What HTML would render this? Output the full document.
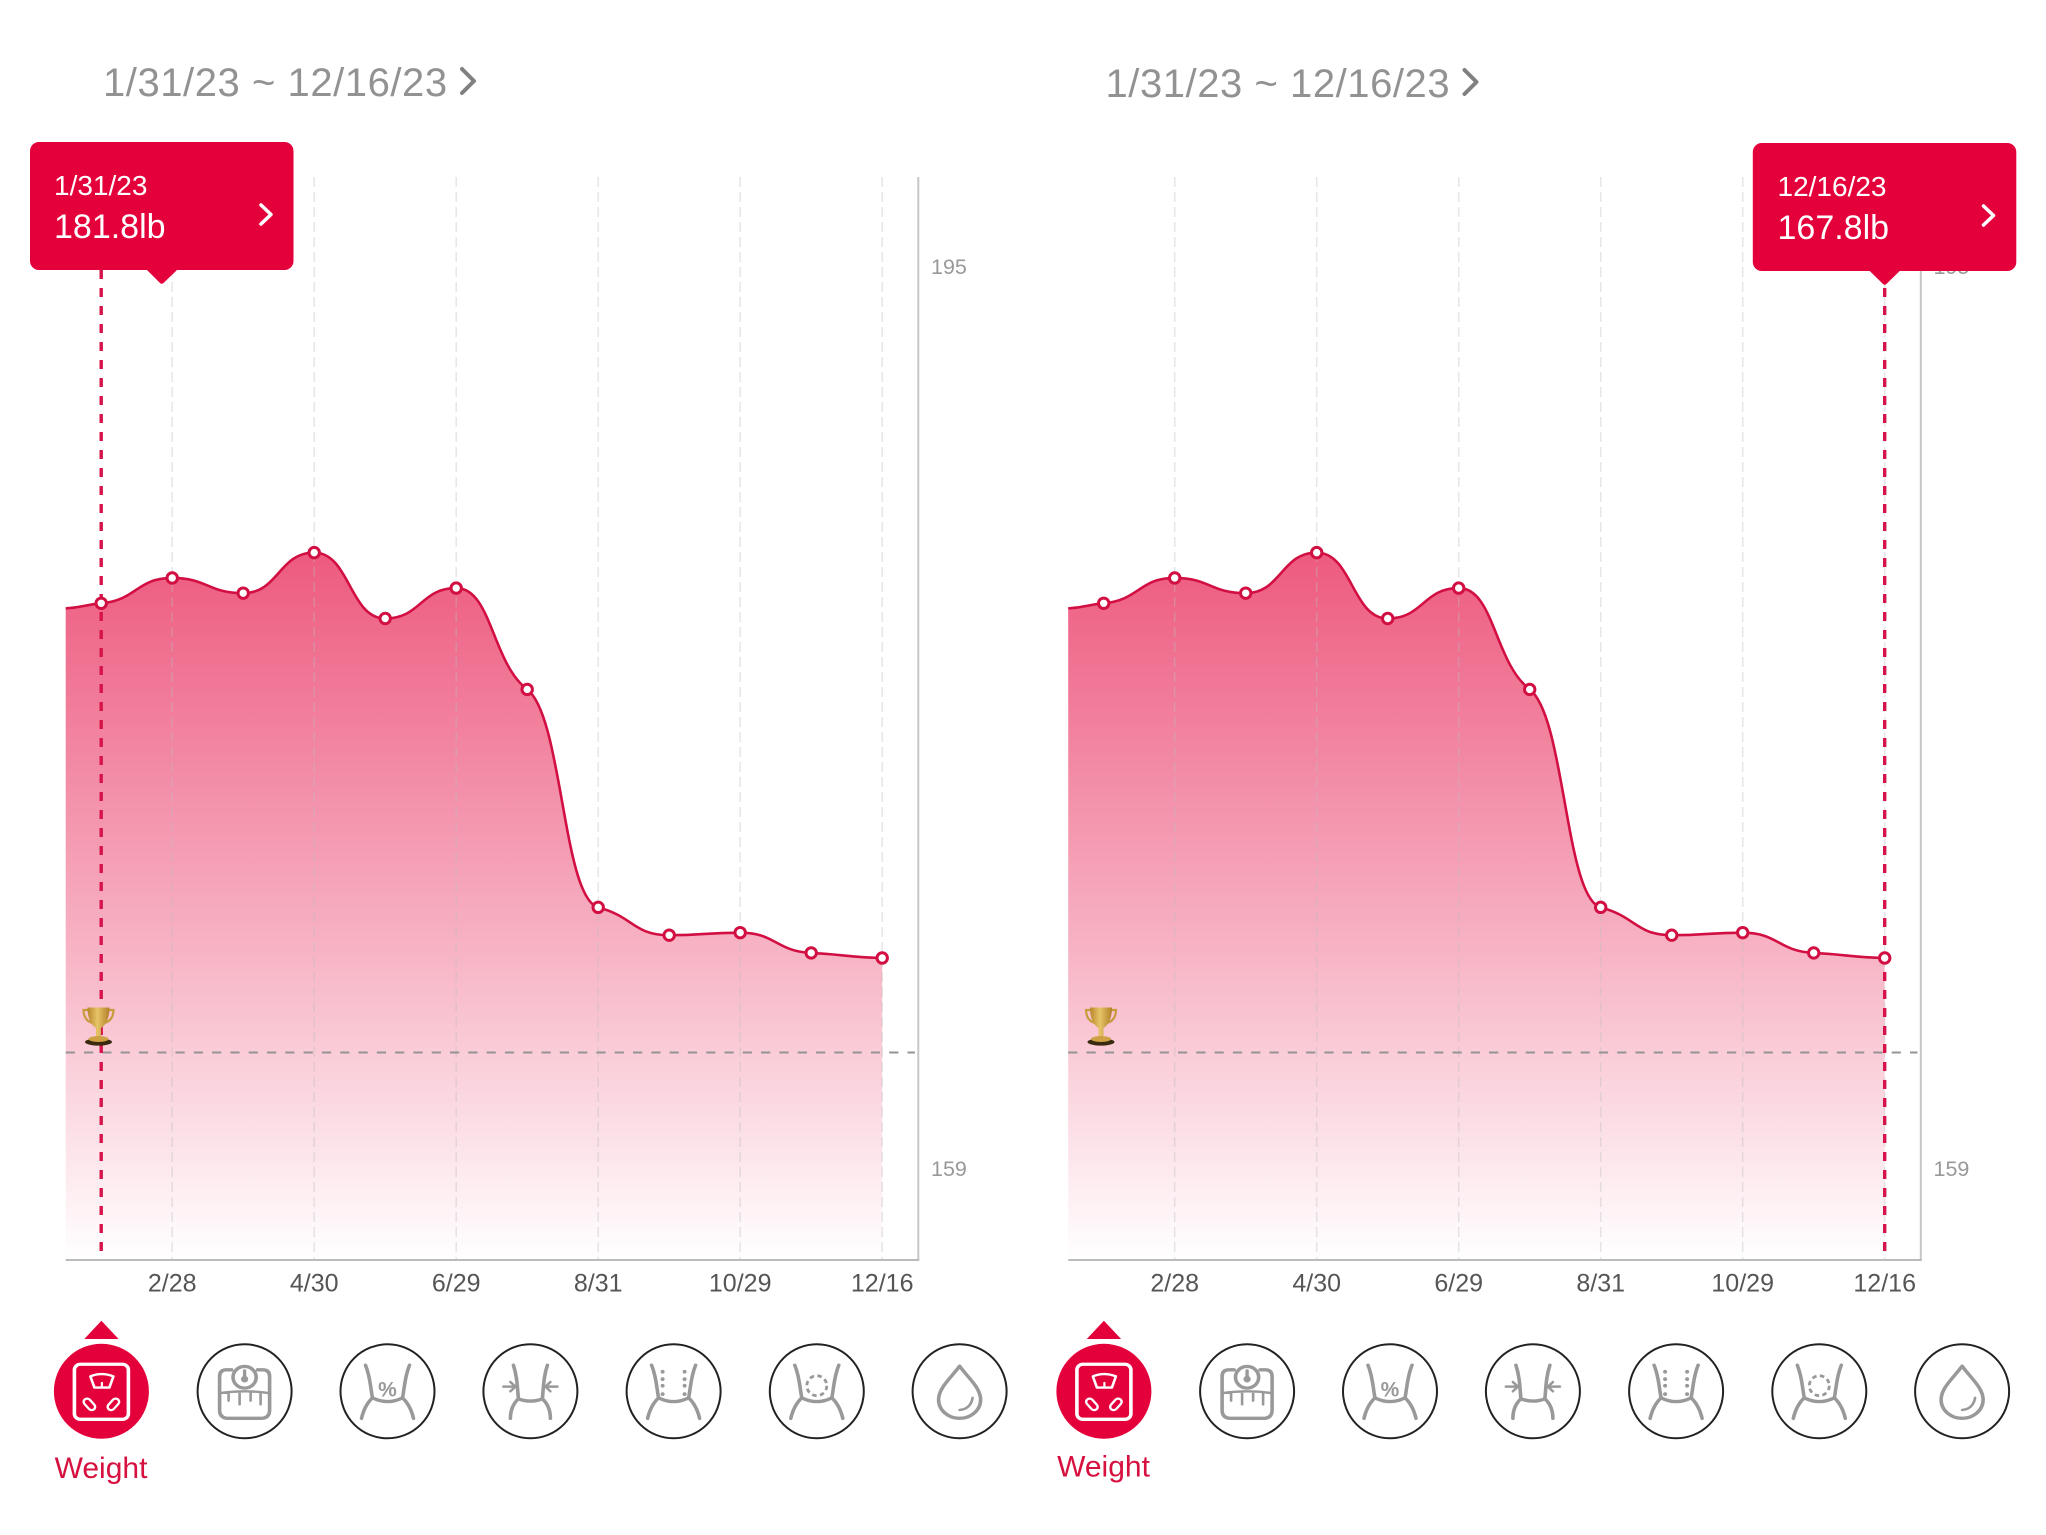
<!DOCTYPE html>
<html lang="en">
<head>
<meta charset="utf-8">
<title>Weight trend charts</title>
<style>
  html, body { margin: 0; padding: 0; background: #fff; }
  svg { display: block; font-family: "Liberation Sans", sans-serif; }
  .range { font-size: 40px; letter-spacing: .55px; fill: #929292; }
  .chev-gray { fill: none; stroke: #808080; stroke-width: 4; stroke-linecap: round; stroke-linejoin: round; }
  .chev-white { fill: none; stroke: #fff; stroke-width: 3.5; stroke-linecap: round; stroke-linejoin: round; }
  .tip-date { font-size: 28px; fill: #fff; }
  .tip-value { font-size: 34px; fill: #fff; }
  .ring { fill: #fff; stroke: #222; stroke-width: 2; }
  .ico { fill: none; stroke: #999; stroke-width: 3.6; stroke-linecap: round; stroke-linejoin: round; }
  .weight-label { font-size: 30px; fill: #d6103f; text-anchor: middle; }
</style>
</head>
<body>
<svg id="page" xmlns="http://www.w3.org/2000/svg" width="2046" height="1535" viewBox="0 0 2046 1535">
  <defs>
    <linearGradient id="areaFill" gradientUnits="userSpaceOnUse" x1="0" y1="540" x2="0" y2="1260">
      <stop offset="0" stop-color="#e4003a" stop-opacity="0.66"/>
      <stop offset="0.58" stop-color="#e4003a" stop-opacity="0.29"/>
      <stop offset="1" stop-color="#e4003a" stop-opacity="0"/>
    </linearGradient>
    <linearGradient id="goldFill" x1="0" y1="0" x2="1" y2="0">
      <stop offset="0" stop-color="#b8862c"/>
      <stop offset="0.45" stop-color="#e8c468"/>
      <stop offset="1" stop-color="#b08028"/>
    </linearGradient>
    <g id="icon-trophy">
      <path d="M88,1010 H83.5 C83.5,1018 88,1022 93,1023 M109,1010 H113.5 C113.5,1018 109,1022 104,1023" fill="none" stroke="#c79a3a" stroke-width="2.2"/>
      <path d="M87.5,1007.5 H109.5 C109.5,1019 105,1026 101,1028 V1037 H96 V1028 C92,1026 87.5,1019 87.5,1007.5 Z" fill="url(#goldFill)"/>
      <ellipse cx="98.5" cy="1042" rx="13.5" ry="3.6" fill="#3a2a10"/>
      <ellipse cx="98.5" cy="1039" rx="10" ry="3" fill="#cfa044"/>
    </g>
    <g id="icon-scale-selected" fill="none" stroke="#fff" stroke-linejoin="round" stroke-linecap="round">
      <rect x="-27" y="-29" width="54" height="59" rx="6" stroke-width="3.6"/>
      <path d="M-11,-16 Q0,-21 12,-16 L8,-4 H-7 Z" stroke-width="2.6"/>
      <path d="M0.5,-4 V-9" stroke-width="2.2"/>
      <rect x="-15.5" y="7" width="7" height="14" rx="3.5" transform="rotate(-40 -12 14)" stroke-width="2.4"/>
      <rect x="8.5" y="7" width="7" height="14" rx="3.5" transform="rotate(40 12 14)" stroke-width="2.4"/>
    </g>
    <g id="icon-scale" class="ico">
      <path d="M-13,-23 H-18 Q-25,-23 -25,-16 V20 Q-25,29 -16,29 H16 Q25,29 25,20 V-16 Q25,-23 18,-23 H13"/>
      <circle cx="0" cy="-15" r="11.6"/>
      <path d="M-25,2 Q0,-2 25,2 M-16,2 V10 M-5,1 V14 M6,1 V10 M16,2 V14" stroke-width="2.6"/>
      <path d="M0,-22 V-14" stroke-width="3.4"/>
      <circle cx="0" cy="-13" r="1.8" fill="#999"/>
    </g>
    <g id="icon-torso" class="ico">
      <path d="M-22,-28 C-17,-15 -17,-3 -15,7 C-20,12 -24,20 -26,29"/>
      <path d="M22,-28 C17,-15 17,-3 15,7 C20,12 24,20 26,29"/>
      <path d="M-15,7 Q0,15 15,7"/>
    </g>
    <g id="icon-torso-narrow" class="ico">
      <path d="M-17,-28 C-13,-15 -13,-3 -12,8 C-17,13 -20,20 -20,29"/>
      <path d="M17,-28 C13,-15 13,-3 12,8 C17,13 20,20 20,29"/>
      <path d="M-12,8 Q0,13 12,8"/>
      <path d="M-27,-5 H-15 M-20,-10 L-15,-5 L-20,0" stroke-width="2.6"/>
      <path d="M27,-5 H15 M20,-10 L15,-5 L20,0" stroke-width="2.6"/>
    </g>
    <g id="icon-dots" fill="#999">
      <circle cx="-11" cy="-21" r="2"/><circle cx="-11" cy="-13" r="2"/><circle cx="-11" cy="-6" r="2"/><circle cx="-11" cy="3" r="2"/>
      <circle cx="11" cy="-21" r="2"/><circle cx="11" cy="-13" r="2"/><circle cx="11" cy="-6" r="2"/><circle cx="11" cy="3" r="2"/>
    </g>
    <g id="icon-drop" class="ico">
      <path d="M0,-27 C8,-15 21,-4 21,9 A21,20 0 0 1 -21,9 C-21,-4 -8,-15 0,-27 Z"/>
      <path d="M0,20 Q11,19 13,7" stroke-width="2.6"/>
    </g>
  </defs>

  <!-- LEFT PANEL -->
  <g id="panel-left">
    <text class="range" x="103" y="96">1/31/23 ~ 12/16/23</text>
    <path class="chev-gray" d="M462,69 L474,81 L462,93"/>
    <g id="plot-left"></g>
    <use href="#icon-trophy"/>
    <g>
      <rect x="30" y="142" width="263.5" height="128" rx="9" fill="#e4003a"/>
      <path d="M146,269 H178 L163.500,283 Q161.700,284.500 160,283 Z" fill="#e4003a"/>
      <text class="tip-date" x="54" y="195">1/31/23</text>
      <text class="tip-value" x="54" y="238">181.8lb</text>
      <path class="chev-white" d="M261,205 L271,214.500 L261,224"/>
    </g>
    <g>
      <path d="M84.300,1339 H118.600 L101.400,1320.700 Z" fill="#e4003a"/>
      <g transform="translate(101.400,1391.300)">
        <circle r="47.500" fill="#e4003a"/>
        <use href="#icon-scale-selected" transform="scale(1,.933)"/>
      </g>
      <text class="weight-label" x="101" y="1478">Weight</text>
      <g transform="translate(244.600,1391.300)">
        <circle class="ring" r="47"/><use href="#icon-scale" transform="scale(1,.933)"/>
      </g>
      <g transform="translate(387.500,1391.300)">
        <circle class="ring" r="47"/><use href="#icon-torso" transform="scale(1,.933)"/>
        <text x="0" y="5" text-anchor="middle" font-size="21" font-weight="bold" fill="#999">%</text>
      </g>
      <g transform="translate(530.400,1391.300)">
        <circle class="ring" r="47"/><use href="#icon-torso-narrow" transform="scale(1,.933)"/>
      </g>
      <g transform="translate(673.600,1391.300)">
        <circle class="ring" r="47"/><use href="#icon-torso" transform="scale(1,.933)"/><use href="#icon-dots" transform="scale(1,.933)"/>
      </g>
      <g transform="translate(816.800,1391.300)">
        <circle class="ring" r="47"/><use href="#icon-torso" transform="scale(1,.933)"/>
        <circle cx="0" cy="-5.600" r="10" fill="none" stroke="#999" stroke-width="2.800" stroke-dasharray="4.500 3.400"/>
      </g>
      <g transform="translate(959.600,1391.300)">
        <circle class="ring" r="47"/><use href="#icon-drop" transform="scale(1,.933)"/>
      </g>
    </g>
  </g>

  <!-- RIGHT PANEL -->
  <g id="panel-right" transform="translate(1002.500,0)">
    <text class="range" x="103" y="97">1/31/23 ~ 12/16/23</text>
    <path class="chev-gray" d="M462,70 L474,82 L462,94"/>
    <g id="plot-right"></g>
    <use href="#icon-trophy"/>
    <g>
      <rect x="750.300" y="143" width="263.500" height="128" rx="9" fill="#e4003a"/>
      <path d="M866.200,270 H898.200 L883.900,284 Q882.200,285.500 880.500,284 Z" fill="#e4003a"/>
      <text class="tip-date" x="775" y="196">12/16/23</text>
      <text class="tip-value" x="775" y="239">167.8lb</text>
      <path class="chev-white" d="M981,206 L991,215.500 L981,225"/>
    </g>
    <g>
      <path d="M84.300,1339 H118.600 L101.400,1320.700 Z" fill="#e4003a"/>
      <g transform="translate(101.400,1391.300)">
        <circle r="47.500" fill="#e4003a"/>
        <use href="#icon-scale-selected" transform="scale(1,.933)"/>
      </g>
      <text class="weight-label" x="101" y="1476.500">Weight</text>
      <g transform="translate(244.600,1391.300)">
        <circle class="ring" r="47"/><use href="#icon-scale" transform="scale(1,.933)"/>
      </g>
      <g transform="translate(387.500,1391.300)">
        <circle class="ring" r="47"/><use href="#icon-torso" transform="scale(1,.933)"/>
        <text x="0" y="5" text-anchor="middle" font-size="21" font-weight="bold" fill="#999">%</text>
      </g>
      <g transform="translate(530.400,1391.300)">
        <circle class="ring" r="47"/><use href="#icon-torso-narrow" transform="scale(1,.933)"/>
      </g>
      <g transform="translate(673.600,1391.300)">
        <circle class="ring" r="47"/><use href="#icon-torso" transform="scale(1,.933)"/><use href="#icon-dots" transform="scale(1,.933)"/>
      </g>
      <g transform="translate(816.800,1391.300)">
        <circle class="ring" r="47"/><use href="#icon-torso" transform="scale(1,.933)"/>
        <circle cx="0" cy="-5.600" r="10" fill="none" stroke="#999" stroke-width="2.800" stroke-dasharray="4.500 3.400"/>
      </g>
      <g transform="translate(959.600,1391.300)">
        <circle class="ring" r="47"/><use href="#icon-drop" transform="scale(1,.933)"/>
      </g>
    </g>
  </g>
</svg>

<script>
// Chart data
const categories = ['1/31','2/28','3/31','4/30','5/31','6/29','7/31','8/31','9/30','10/29','11/30','12/16'];
const weights = [181.8, 182.8, 182.2, 183.8, 181.2, 182.4, 178.4, 169.8, 168.7, 168.8, 168.0, 167.8];
const leadWeight = 181.6;
const goalWeight = 164.07;
const xTickLabels = ['2/28','4/30','6/29','8/31','10/29','12/16'];
const yTickValues = [195, 159];

// Axis functions
const SVG_NS = 'http://www.w3.org/2000/svg';
const plotLeft = 65.7, plotRight = 918.3, plotTop = 177, plotBottom = 1260;
function xScale(i) { return 101.2 + 71.0 * i; }
function yScale(v) { return 603.3 + (181.8 - v) * (958 - 603.3) / (181.8 - 167.8); }
function yTickCenter(v) { return 266 + (195 - v) * (1168 - 266) / (195 - 159); }

function make(parent, tag, attrs, text) {
  const el = document.createElementNS(SVG_NS, tag);
  for (const k in attrs) el.setAttribute(k, attrs[k]);
  if (text !== undefined) el.textContent = text;
  parent.appendChild(el);
  return el;
}

function curvePath(pts) {
  const n = pts.length;
  const slopes = [];
  for (let i = 0; i < n - 1; i++) slopes.push((pts[i + 1][1] - pts[i][1]) / (pts[i + 1][0] - pts[i][0]));
  const tangents = pts.map((p, i) => {
    if (i === 0) return slopes[0];
    if (i === n - 1) return slopes[n - 2];
    const a = slopes[i - 1], b = slopes[i];
    if (a * b <= 0) return 0;
    const lim = 2 * Math.min(Math.abs(a), Math.abs(b));
    return Math.sign(a) * Math.min(lim, Math.abs(a + b) / 2);
  });
  const reach = 0.5, soften = 0.34;
  let d = 'M' + pts[0][0].toFixed(2) + ',' + pts[0][1].toFixed(2);
  for (let i = 0; i < n - 1; i++) {
    const dx = pts[i + 1][0] - pts[i][0];
    const c1x = pts[i][0] + reach * dx;
    const c1y = pts[i][1] + tangents[i] * soften * reach * dx;
    const c2x = pts[i + 1][0] - reach * dx;
    const c2y = pts[i + 1][1] - tangents[i + 1] * soften * reach * dx;
    d += ' C' + c1x.toFixed(2) + ',' + c1y.toFixed(2) + ' ' + c2x.toFixed(2) + ',' + c2y.toFixed(2) + ' ' + pts[i + 1][0].toFixed(2) + ',' + pts[i + 1][1].toFixed(2);
  }
  return d;
}

function drawChart(root, selectedIndex) {
  const pts = [[xScale(-0.5), yScale(leadWeight)]];
  weights.forEach((v, i) => pts.push([xScale(i), yScale(v)]));
  const lineD = curvePath(pts);
  const lastX = xScale(weights.length - 1);

  const area = make(root, 'path', { d: lineD + ' L' + lastX + ',' + plotBottom + ' L' + xScale(-0.5) + ',' + plotBottom + ' Z', fill: 'url(#areaFill)' });
  
  

  xTickLabels.forEach(label => {
    const i = categories.indexOf(label);
    const grid = make(root, 'line', { x1: xScale(i), x2: xScale(i), y1: plotTop, y2: plotBottom, stroke: '#bdbdbd', 'stroke-opacity': 0.38, 'stroke-width': 1.5, 'stroke-dasharray': '10 5' });
    
    
    const tick = make(root, 'text', { x: xScale(i), y: 1291.5, 'text-anchor': 'middle', 'font-size': 25, fill: '#555' }, label);
    
    
  });

  const yAxis = make(root, 'line', { x1: plotRight, x2: plotRight, y1: plotTop, y2: plotBottom, stroke: '#c6c6c6', 'stroke-width': 2 });
  
  

  const xAxis = make(root, 'line', { x1: plotLeft, x2: plotRight + 1, y1: plotBottom, y2: plotBottom, stroke: '#bbb', 'stroke-width': 2 });
  
  

  yTickValues.forEach(v => {
    const t = make(root, 'text', { x: 931, y: yTickCenter(v) + 8, 'font-size': 21.5, fill: '#999' }, String(v));
    
    
  });

  const goal = make(root, 'line', { x1: plotLeft, x2: 915, y1: yScale(goalWeight), y2: yScale(goalWeight), stroke: '#949494', 'stroke-width': 2, 'stroke-dasharray': '9.2 9.1' });
  
  

  const sel = make(root, 'line', { x1: xScale(selectedIndex), x2: xScale(selectedIndex), y1: 270, y2: plotBottom, stroke: '#d6134a', 'stroke-width': 3.4, 'stroke-dasharray': '9 9' });
  
  

  const line = make(root, 'path', { d: lineD, fill: 'none', stroke: '#d20f42', 'stroke-width': 2.6 });
  
  

  weights.forEach((v, i) => {
    const dot = make(root, 'circle', { cx: xScale(i), cy: yScale(v), r: 5.2, fill: '#fff', stroke: '#d20f42', 'stroke-width': 3 });
    
    
  });
}

drawChart(document.getElementById('plot-left'), 0);
drawChart(document.getElementById('plot-right'), weights.length - 1);
</script>
</body>
</html>
